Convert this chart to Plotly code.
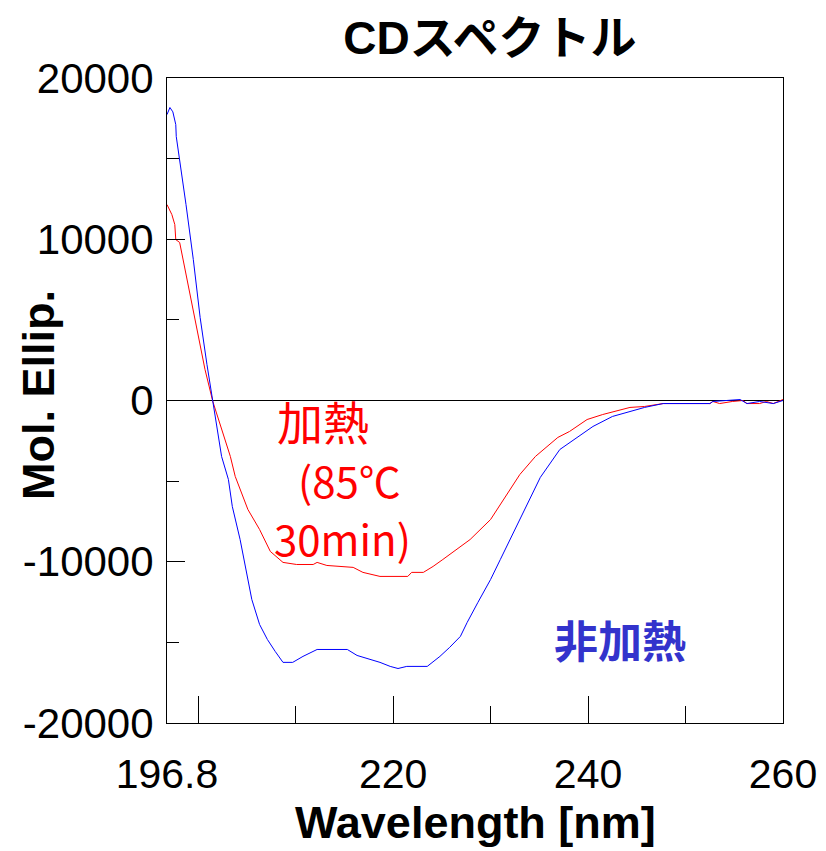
import plotly.graph_objects as go

# Non-heated (blue)
wl_blue = [196.8, 197.1, 197.4, 197.7, 197.75, 198.1, 198.75, 199.5, 200.2, 200.9,
           201.5, 202.0, 202.4, 203.1, 203.5, 204.3, 205.1, 205.5, 206.3, 207.1,
           207.9, 208.7, 209.7, 210.75, 212.2, 215.3, 216.3, 217.4, 218.65, 219.7,
           220.5, 221.4, 223.5, 224.8, 225.8, 226.9, 227.6, 228.7, 230.0, 231.0,
           233.0, 235.1, 237.1, 238.9, 240.5, 242.5, 244.3, 245.8, 247.7, 252.5,
           252.8, 254.3, 255.6, 256.3, 257.6, 259.0, 260.0]
cd_blue = [17730, 18170, 17900, 17110, 16370, 14940, 12150, 8740, 5150, 2230,
           -60, -1800, -3470, -4900, -6570, -8620, -11100, -12340, -13890, -14820,
           -15560, -16240, -16240, -15870, -15440, -15440, -15810, -16000, -16240, -16490,
           -16620, -16490, -16490, -15870, -15310, -14630, -13760, -12520, -11100, -9860,
           -7380, -4770, -3040, -2290, -1610, -990, -680, -430, -190, -190,
           -60, 0, 60, -190, -60, -190, 0]

# Heated (red)
wl_red = [196.8, 197.3, 197.6, 197.7, 198.1, 198.3, 198.75, 199.7, 200.7, 201.5,
          202.0, 203.3, 203.8, 205.1, 206.3, 207.1, 207.4, 208.7, 210.1, 211.8,
          212.2, 213.2, 215.9, 216.9, 218.65, 221.5, 221.9, 223.1, 224.1, 225.1,
          225.8, 226.9, 227.9, 230.0, 231.5, 233.0, 234.6, 236.9, 238.1, 239.9,
          241.5, 244.3, 245.8, 247.7, 252.5, 252.8, 253.5, 254.8, 255.9, 256.3,
          257.6, 258.3, 259.0, 260.0]
cd_red = [12150, 11530, 10910, 9980, 9800, 9180, 7810, 5020, 1920, -60,
          -990, -3470, -4710, -6760, -8000, -9050, -9360, -10040, -10170, -10170,
          -10040, -10230, -10350, -10660, -10910, -10910, -10660, -10660, -10290, -9860,
          -9550, -9110, -8620, -7380, -5950, -4590, -3470, -2290, -1920, -1180,
          -870, -430, -370, -190, -190, -60, -190, -60, 0, -190,
          -190, -60, -190, 60]

x_tickvals = [196.8, 200, 220, 240, 260]
x_ticktext = ["196.8", "", "220", "240", "260"]
y_tickvals = [-20000, -10000, 0, 10000, 20000]
y_ticktext = ["-20000", "-10000", "0", "10000", "20000"]

fig = go.Figure()
fig.add_trace(go.Scatter(x=wl_red, y=cd_red, mode="lines",
                         line=dict(color="#ff0000", width=1), showlegend=False))
fig.add_trace(go.Scatter(x=wl_blue, y=cd_blue, mode="lines",
                         line=dict(color="#0000ff", width=1), showlegend=False))

label_font = "Liberation Sans, Arial, sans-serif"
jp_font = "Noto Sans CJK JP, sans-serif"

fig.update_layout(
    width=826, height=851,
    margin=dict(l=167, r=43, t=78, b=128, autoexpand=False),
    paper_bgcolor="white", plot_bgcolor="white",
    title=dict(text="<b>CDスペクトル</b>", x=0.593, xanchor="center", y=0.955, yanchor="middle",
               font=dict(family="Liberation Sans, Noto Sans CJK JP, sans-serif", size=46, color="black")),
    xaxis=dict(range=[196.8, 260], tickvals=x_tickvals, ticktext=x_ticktext,
               ticks="inside", ticklen=27, tickcolor="black", tickwidth=1,
               minor=dict(tick0=200, dtick=10, ticks="inside", ticklen=17, tickcolor="black"),
               showline=True, linecolor="black", linewidth=1, mirror=True,
               showgrid=False, zeroline=False, automargin=False,
               tickfont=dict(family=label_font, size=41, color="black"),
               ticklabelstandoff=15),
    yaxis=dict(range=[-20000, 20000], tickvals=y_tickvals, ticktext=y_ticktext,
               ticks="inside", ticklen=18, tickcolor="black", tickwidth=1,
               minor=dict(dtick=5000, tick0=0, ticks="inside", ticklen=12, tickcolor="black"),
               showline=True, linecolor="black", linewidth=1, mirror=True,
               showgrid=False, zeroline=True, zerolinecolor="black", zerolinewidth=1,
               automargin=False,
               tickfont=dict(family=label_font, size=42, color="black"),
               ticklabelstandoff=4),
)

# axis titles
fig.add_annotation(xref="paper", yref="paper", x=0.5016, y=-0.155, text="<b>Wavelength [nm]</b>",
                   showarrow=False, xanchor="center", yanchor="middle",
                   font=dict(family=label_font, size=45, color="black"))
fig.add_annotation(xref="paper", yref="paper", x=-0.2094, y=0.5085, text="<b>Mol. Ellip.</b>",
                   showarrow=False, xanchor="center", yanchor="middle", textangle=-90,
                   font=dict(family=label_font, size=45, color="black"))

# labels on the plot
fig.add_annotation(x=207.9, y=-1180, text="加熱", showarrow=False, xanchor="left", yanchor="middle",
                   font=dict(family=jp_font, size=46, color="#ff0000"))
fig.add_annotation(x=210.0, y=-4900, text="(85℃", showarrow=False, xanchor="left", yanchor="middle",
                   font=dict(family=jp_font, size=42, color="#ff0000"))
fig.add_annotation(x=207.6, y=-8500, text="30min)", showarrow=False, xanchor="left", yanchor="middle",
                   font=dict(family=jp_font, size=42, color="#ff0000"))
fig.add_annotation(x=236.3, y=-14820, text="<b>非加熱</b>", showarrow=False, xanchor="left", yanchor="middle",
                   font=dict(family=jp_font, size=44, color="#3333cc"))

fig.write_html("out.html")
